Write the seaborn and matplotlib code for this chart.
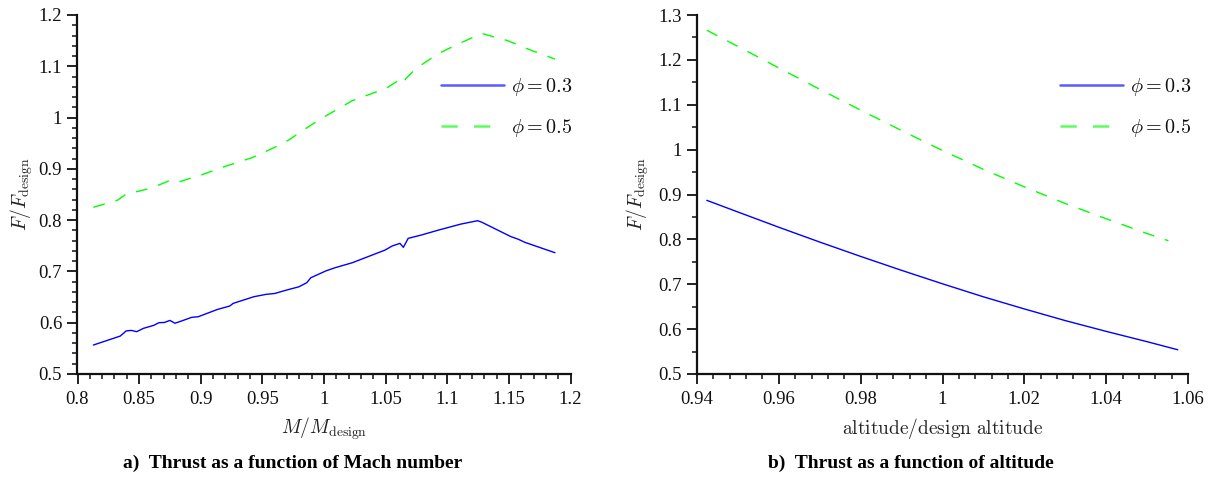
import numpy as np
import pandas as pd
import matplotlib
matplotlib.use("Agg")
import matplotlib.pyplot as plt
from matplotlib.ticker import MultipleLocator, FuncFormatter
from matplotlib.lines import Line2D
import seaborn as sns

# ---------------- data ----------------
mach_phi03 = [0.8129, 0.8347, 0.8395, 0.8437, 0.848, 0.8535, 0.862, 0.866, 0.8705, 0.875,
              0.879, 0.8843, 0.8927, 0.898, 0.9137, 0.9235, 0.9263, 0.9431, 0.953, 0.960,
              0.9697, 0.9796, 0.986, 0.9893, 1.0019, 1.009, 1.023, 1.0356, 1.0496, 1.0552,
              1.0616, 1.0644, 1.0683, 1.079, 1.093, 1.1112, 1.1246, 1.128, 1.1462, 1.1518,
              1.1574, 1.163, 1.1874]
thrust_mach_phi03 = [0.5565, 0.574, 0.584, 0.585, 0.5825, 0.589, 0.595, 0.600, 0.6005, 0.6045,
                     0.599, 0.6033, 0.6105, 0.6117, 0.626, 0.6325, 0.6377, 0.6507, 0.6553, 0.657,
                     0.6637, 0.670, 0.678, 0.6877, 0.7014, 0.7072, 0.717, 0.7287, 0.7417, 0.7495,
                     0.7547, 0.747, 0.7645, 0.771, 0.7807, 0.7924, 0.7989, 0.796, 0.7743, 0.7677,
                     0.763, 0.7567, 0.7365]

mach_phi05 = [0.8129, 0.8213, 0.8325, 0.8395, 0.8507, 0.8605, 0.8745, 0.8801, 0.8843, 0.904,
              0.9137, 0.9418, 0.960, 0.9712, 0.988, 0.9977, 1.023, 1.0504, 1.0608, 1.0644,
              1.0664, 1.0748, 1.093, 1.1098, 1.128, 1.149, 1.1672, 1.1874]
thrust_mach_phi05 = [0.825, 0.831, 0.839, 0.851, 0.857, 0.863, 0.877, 0.873, 0.876, 0.891,
                     0.900, 0.922, 0.942, 0.956, 0.983, 0.998, 1.033, 1.057, 1.073, 1.067,
                     1.076, 1.096, 1.125, 1.1445, 1.164, 1.150, 1.132, 1.114]

alt_phi03 = [0.9424, 0.95, 0.96, 0.97, 0.98, 0.99, 1.00, 1.01, 1.02, 1.03, 1.04, 1.05, 1.0575]
thrust_alt_phi03 = [0.887, 0.861, 0.827, 0.794, 0.762, 0.731, 0.701, 0.672, 0.645, 0.619,
                    0.595, 0.572, 0.554]

alt_phi05 = [0.9424, 0.95, 0.96, 0.97, 0.98, 0.99, 1.00, 1.01, 1.02, 1.03, 1.04, 1.05, 1.0552]
thrust_alt_phi05 = [1.266, 1.230, 1.182, 1.1345, 1.088, 1.0425, 0.998, 0.956, 0.917, 0.880,
                    0.846, 0.813, 0.797]

series_labels = [r"$\phi = 0.3$", r"$\phi = 0.5$"]
captions = ["a)  Thrust as a function of Mach number", "b)  Thrust as a function of altitude"]
xlabels = [r"$M/M_{\rm design}$", r"$\rm altitude/design\ altitude$"]
ylabel = r"$F/F_{\rm design}$"

# ---------------- style ----------------
sns.set_theme(style="ticks")
plt.rcParams["font.family"] = ["Liberation Serif", "DejaVu Serif"]
plt.rcParams["mathtext.fontset"] = "cm"
plt.rcParams["text.color"] = "black"

W, H = 1216, 483
fig = plt.figure(figsize=(W / 100, H / 100), dpi=100)

def px_axes(x0, x1, ytop, ybot):
    return fig.add_axes([x0 / W, (H - ybot) / H, (x1 - x0) / W, (ybot - ytop) / H])

ax1 = px_axes(77.5, 570.5, 15, 374)
ax2 = px_axes(697, 1188, 15, 374)

blue = "#0000ff"
green = "#00ff00"
dash = (0, (8.5, 8.0))

sns.lineplot(x=mach_phi03, y=thrust_mach_phi03, ax=ax1, color=blue, linewidth=1.0,
             estimator=None, sort=False)
sns.lineplot(x=mach_phi05, y=thrust_mach_phi05, ax=ax1, color=green, linewidth=1.0,
             linestyle=dash, estimator=None, sort=False)
sns.lineplot(x=alt_phi03, y=thrust_alt_phi03, ax=ax2, color=blue, linewidth=1.0,
             estimator=None, sort=False)
sns.lineplot(x=alt_phi05, y=thrust_alt_phi05, ax=ax2, color=green, linewidth=1.0,
             linestyle=dash, estimator=None, sort=False)

fmt = FuncFormatter(lambda v, p: f"{round(v, 4):g}")

settings = [
    (ax1, (0.8, 1.2), (0.5, 1.2), 0.05, 0.01, 0.1, 0.02, -0.1126, 573),
    (ax2, (0.94, 1.06), (0.5, 1.3), 0.02, 0.004, 0.1, 0.05, -0.120, 1192),
]
for i, (ax, xl, yl, xmaj, xmin, ymaj, ymin, ylab_x, leg_right) in enumerate(settings):
    ax.set_xlim(*xl)
    ax.set_ylim(*yl)
    ax.xaxis.set_major_locator(MultipleLocator(xmaj))
    ax.xaxis.set_minor_locator(MultipleLocator(xmin))
    ax.yaxis.set_major_locator(MultipleLocator(ymaj))
    ax.yaxis.set_minor_locator(MultipleLocator(ymin))
    ax.xaxis.set_major_formatter(fmt)
    ax.yaxis.set_major_formatter(fmt)
    sns.despine(ax=ax)
    for s in ("left", "bottom"):
        ax.spines[s].set_linewidth(1.6)
        ax.spines[s].set_color("#111111")
    ax.tick_params(which="major", direction="out", length=7, width=1.3, color="#111111",
                   labelsize=13.5, labelcolor="#111111")
    ax.tick_params(which="minor", direction="out", length=3.5, width=1.1, color="#111111")
    ax.tick_params(axis="x", which="major", pad=5)
    ax.tick_params(axis="y", which="major", pad=4)
    ax.set_xlabel(xlabels[i], fontsize=14, color="#222222")
    ax.set_ylabel(ylabel, fontsize=14, color="#222222")
    ax.xaxis.label.set_va("center")
    ax.xaxis.set_label_coords(0.5, -0.153)
    ax.yaxis.label.set_va("center")
    ax.yaxis.set_label_coords(ylab_x, 0.5)
    ax.set_facecolor("white")

    handles = [
        Line2D([], [], color="#5a5aff", linewidth=1.8),
        Line2D([], [], color="#5aff5a", linewidth=1.8, linestyle=(0, (6.5, 6.5))),
    ]
    ax.legend(handles, series_labels, loc="upper right",
              bbox_to_anchor=(leg_right / W, (H - 76) / H), bbox_transform=fig.transFigure,
              frameon=False, fontsize=14.5, handlelength=3.15, handletextpad=0.35,
              labelspacing=0.95, borderpad=0, borderaxespad=0, labelcolor="#111111")

fig.text(293 / W, (H - 463) / H, captions[0], ha="center", va="center", color="black",
         fontsize=14, fontweight="bold", family=["Liberation Serif", "DejaVu Serif"])
fig.text(911 / W, (H - 463) / H, captions[1], ha="center", va="center", color="black",
         fontsize=14, fontweight="bold", family=["Liberation Serif", "DejaVu Serif"])

fig.savefig("out.png", dpi=100, facecolor="white")
